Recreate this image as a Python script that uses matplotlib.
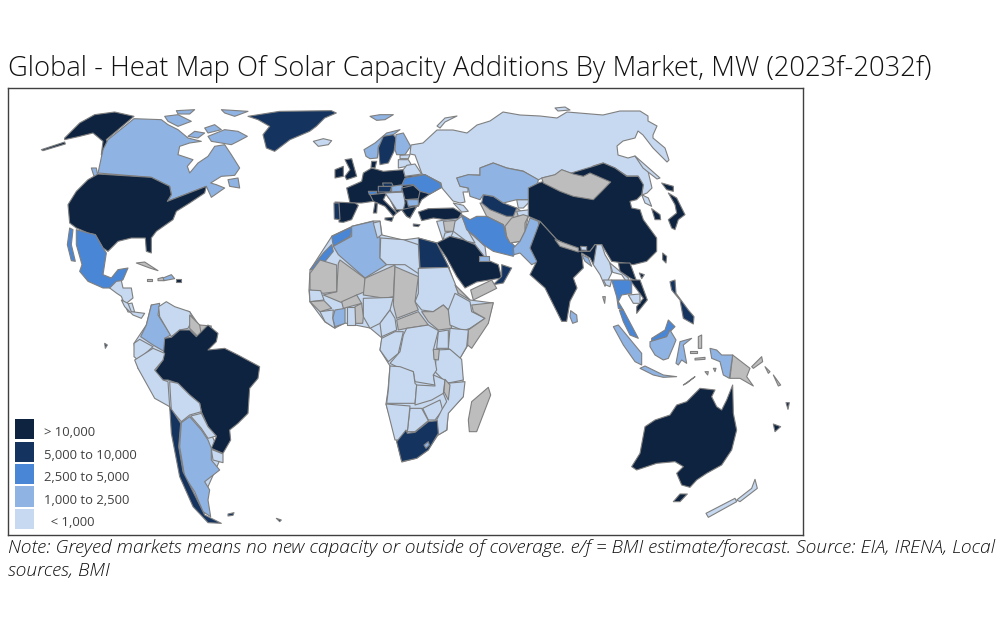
import matplotlib
matplotlib.use('Agg')
import matplotlib.pyplot as plt
from matplotlib.patches import Patch

title = 'Global - Heat Map Of Solar Capacity Additions By Market, MW (2023f-2032f)'
note = ('Note: Greyed markets means no new capacity or outside of coverage. e/f = BMI estimate/forecast. '
        'Source: EIA, IRENA, Local\nsources, BMI')

tiers = ['> 10,000', '5,000 to 10,000', '2,500 to 5,000', '1,000 to 2,500', '< 1,000']
tier_labels = ['> 10,000', '5,000 to 10,000', '2,500 to 5,000', '1,000 to 2,500', '  < 1,000']
tier_colors = ['#0e2340', '#14345f', '#4a86d6', '#8fb3e3', '#c6d9f1']
grey = '#bdbdbd'
A, B, C, D, E, G = tiers[0], tiers[1], tiers[2], tiers[3], tiers[4], 'none'

# outlines, each list in the pixels of one zoomed crop (3x)
north_america = [
    (A, [(170,150),(215,105),(260,80),(320,72),(378,85),(295,155),(300,165),(290,215),(280,200),(285,160),(255,135),(215,145),(170,155)]),
    (A, [(100,185),(170,162),(172,168),(105,188)]),
    (D, [(378,92),(460,95),(480,110),(510,125),(540,150),(580,160),(545,165),(515,175),(510,200),(555,215),(538,235),(545,255),(570,225),(600,205),(620,175),(650,170),(670,200),(695,240),(680,262),(640,265),(608,285),(625,290),(650,300),(610,328),(595,295),(530,320),(478,340),(490,320),(485,295),(430,268),(270,255),(285,185),(300,155)]),
    (D, [(600,145),(650,125),(690,130),(718,145),(690,160),(670,170),(640,165),(610,160)]),
    (D, [(470,85),(510,80),(550,100),(510,115),(480,100)]),
    (D, [(590,120),(620,110),(640,125),(600,135)]),
    (D, [(640,65),(720,70),(680,85),(650,75)]),
    (D, [(560,130),(590,135),(570,150),(540,145)]),
    (D, [(505,68),(560,65),(545,78),(510,78)]),
    (D, [(660,275),(690,270),(695,300),(665,295)]),
    (D, [(250,240),(265,240),(270,265),(258,265)]),
    (A, [(270,258),(430,268),(485,295),(490,320),(478,340),(530,320),(595,295),(590,315),(545,345),(505,370),(495,395),(445,430),(430,450),(430,495),(415,490),(412,450),(370,450),(330,460),(300,490),(285,480),(262,440),(240,435),(205,420),(185,405),(180,350),(205,310),(240,275)]),
    (C, [(205,425),(240,435),(262,440),(285,480),(295,495),(285,560),(310,570),(330,545),(360,540),(345,575),(310,600),(285,600),(240,580),(215,550),(222,530),(205,470)]),
    (C, [(185,420),(195,425),(190,470),(202,520),(190,518),(178,470)]),
    (E, [(305,600),(325,580),(340,578),(345,600),(370,600),(375,630),(350,650),(340,625),(325,615)]),
    (E, [(350,650),(372,645),(380,672),(360,672)]),
    (G, [(385,525),(410,522),(450,548),(425,540)]),
    (D, [(465,570),(490,560),(500,572),(468,578)]),
    (G, [(450,572),(465,568),(468,578),(450,578)]),
    (A, [(505,572),(518,572),(518,581),(505,581)]),
    (G, [(418,573),(432,573),(432,580),(418,580)]),
]
greenland = [
    (B, [(720,85),(815,70),(970,68),(985,75),(950,90),(925,115),(905,130),(846,155),(800,190),(775,180),(765,140),(785,115),(750,95)]),
]
south_america = [
    (E, [(430,15),(545,35),(590,100),(480,130),(600,380),(640,470),(600,560),(590,640),(530,530),(485,320),(390,205),(378,130),(415,75)]),
    (D, [(430,15),(455,10),(450,45),(488,105),(470,115),(470,155),(435,135),(398,110),(415,75)]),
    (E, [(452,20),(475,5),(500,20),(545,35),(555,55),(540,85),(515,90),(490,110),(455,50)]),
    (G, [(545,45),(575,75),(590,85),(570,110),(545,85)]),
    (G, [(575,75),(610,78),(605,95),(580,105)]),
    (A, [(490,112),(515,90),(545,90),(565,110),(600,75),(630,100),(625,125),(600,150),(650,145),(690,165),(755,200),(750,235),(725,265),(720,340),(690,370),(665,390),(668,420),(645,460),(610,445),(625,410),(600,380),(580,335),(575,310),(545,285),(510,250),(480,240),(465,240),(440,215),(465,180),(470,115)]),
    (E, [(378,130),(395,118),(435,140),(390,180),(378,170)]),
    (E, [(380,180),(435,145),(470,160),(465,180),(440,210),(465,240),(480,245),(485,320),(440,295),(390,205)]),
    (E, [(485,245),(510,250),(545,285),(575,310),(580,335),(545,345),(520,365),(490,330)]),
    (E, [(548,348),(580,340),(600,380),(625,408),(600,415),(580,385)]),
    (E, [(610,448),(645,462),(645,488),(615,480)]),
    (D, [(520,368),(545,350),(580,390),(600,420),(610,445),(610,480),(635,510),(590,545),(605,570),(600,600),(608,650),(585,635),(560,575),(530,530),(515,440)]),
    (B, [(485,320),(502,345),(518,370),(512,440),(525,515),(555,575),(590,645),(640,670),(600,668),(555,620),(515,530),(490,400)]),
    (B, [(660,642),(678,638),(675,646),(660,648)]),
    (B, [(805,655),(820,660),(815,665)]),
    (B, [(290,130),(298,135),(292,145)]),
    (E, [(340,0),(360,10),(370,35),(410,40),(400,55),(375,45),(350,20)]),
]
russia_full = [
    (E, [(411,145),(423,143),(437,130),(453,130),(467,133),(477,125),(490,121),(503,112),(520,115),(540,116),(557,118),(567,112),(603,115),(620,111),(640,111),(648,116),(648,121),(657,126),(653,135),(653,138),(665,148),(669,160),(667,162),(653,148),(643,135),(638,131),(635,138),(623,141),(617,146),(618,155),(628,158),(635,156),(648,171),(652,188),(647,193),(642,195),(643,185),(638,176),(627,176),(615,168),(603,163),(593,166),(590,171),(583,176),(573,174),(562,170),(555,175),(542,178),(538,180),(523,171),(507,168),(493,163),(480,168),(480,175),(468,175),(457,178),(460,186),(468,188),(468,192),(463,192),(465,202),(460,203),(453,201),(442,188),(441,183),(425,175),(422,174),(415,155),(410,154)]),
    (E, [(635,156),(643,163),(660,178),(657,179),(643,168)]),
    (E, [(437,126),(445,118),(457,116),(445,122),(440,128)]),
    (E, [(555,108),(565,107),(570,110),(558,111)]),
]
africa_outline = [
    (E, [(310,270),(332,236),(353,226),(373,221),(380,221),(382,235),(403,240),(418,238),(437,243),(449,268),(455,285),(470,300),(493,303),(488,323),(468,345),(460,358),(463,380),(463,397),(448,413),(447,430),(438,435),(428,450),(417,458),(402,462),(397,442),(386,404),(388,390),(390,366),(380,350),(382,338),(370,328),(345,323),(335,328),(325,322),(310,302),(309,290)]),
]
europe_asia_west = [
    (A, [(170,300),(215,280),(220,255),(245,240),(280,250),(340,245),(345,265),(405,260),(450,285),(455,298),(420,318),(395,335),(385,355),(380,355),(360,390),(350,385),(335,365),(320,375),(300,335),(285,315),(280,335),(250,340),(215,345),(180,345)]),
    (E, [(440,400),(470,395),(515,380),(530,425),(585,475),(590,515),(555,470),(520,455),(480,445),(460,460)]),
    (G, [(570,345),(680,360),(715,385),(705,430),(690,460),(660,465),(640,410),(590,385)]),
    (E, [(70,160),(100,152),(125,158),(115,170),(85,175)]),
    (D, [(240,85),(270,80),(310,80),(285,95),(260,97)]),
    (D, [(222,185),(255,165),(290,135),(330,125),(310,140),(285,150),(265,175),(262,210),(240,212),(228,205)]),
    (B, [(265,180),(280,145),(310,140),(318,150),(312,190),(295,225),(270,230)]),
    (D, [(318,140),(340,135),(362,175),(345,200),(320,200),(315,185)]),
    (E, [(330,202),(360,200),(355,212),(330,212)]),
    (E, [(325,215),(355,215),(365,232),(325,240)]),
    (E, [(350,232),(375,228),(395,258),(345,265),(340,245)]),
    (A, [(165,215),(185,212),(200,265),(170,275),(165,265),(180,245)]),
    (A, [(135,245),(160,235),(160,265),(135,270)]),
    (A, [(245,220),(260,220),(255,240),(243,238)]),
    (C, [(235,310),(260,310),(260,318),(238,320)]),
    (A, [(240,320),(290,315),(280,335),(320,375),(310,385),(285,355),(250,340)]),
    (A, [(255,345),(262,345),(260,375),(250,375)]),
    (A, [(285,390),(310,388),(305,400),(285,395)]),
    (A, [(135,342),(195,345),(205,352),(185,395),(160,403),(147,402),(148,360)]),
    (B, [(132,345),(147,345),(150,395),(133,393)]),
    (B, [(265,295),(305,295),(300,312),(265,312)]),
    (B, [(278,285),(305,285),(310,295),(280,295)]),
    (D, [(305,295),(338,290),(335,310),(305,312)]),
    (E, [(285,315),(340,312),(345,345),(340,365),(320,365),(300,335)]),
    (A, [(335,300),(370,292),(390,310),(385,332),(345,335)]),
    (D, [(350,335),(385,335),(385,352),(355,355)]),
    (A, [(335,365),(380,355),(360,390),(350,385)]),
    (C, [(345,270),(405,260),(450,285),(455,298),(420,318),(390,310),(370,290),(335,292)]),
    (A, [(385,372),(415,362),(490,360),(515,375),(505,392),(465,395),(430,390),(395,398)]),
    (A, [(370,408),(390,410),(385,416),(370,414)]),
    (E, [(490,345),(520,352),(535,370),(515,372)]),
    (G, [(460,400),(500,397),(490,430),(465,430)]),
    (E, [(495,400),(515,385),(535,430),(555,465),(530,460),(490,430)]),
    (E, [(465,435),(490,430),(475,465),(458,460)]),
    (C, [(515,380),(540,395),(560,385),(590,385),(640,410),(650,450),(680,480),(670,505),(610,490),(580,470),(555,445),(530,425)]),
    (B, [(580,320),(610,325),(640,345),(680,360),(670,385),(650,385),(600,365),(575,345)]),
    (E, [(680,335),(725,335),(700,360),(685,360)]),
    (E, [(680,370),(720,365),(715,385),(685,385)]),
    (D, [(500,270),(535,260),(570,262),(570,240),(610,225),(650,240),(700,250),(745,275),(735,320),(725,335),(680,335),(640,345),(610,325),(580,320),(570,335),(540,325),(535,300),(510,295)]),
    (G, [(645,415),(665,390),(700,380),(715,385),(705,405),(705,430),(690,460),(660,465),(650,445)]),
    (D, [(670,480),(690,460),(705,430),(720,390),(745,400),(750,440),(730,480),(745,520),(725,530),(690,495),(672,500)]),
    (A, [(440,465),(480,445),(520,455),(555,470),(590,515),(625,530),(635,570),(560,582),(525,600),(500,565),(470,510)]),
    (B, [(635,530),(665,540),(640,585),(610,590),(635,565)]),
    (D, [(568,505),(598,505),(598,520),(568,520)]),
    (C, [(125,445),(190,415),(180,445),(130,475)]),
    (C, [(60,545),(100,495),(125,470),(130,490),(85,545)]),
    (D, [(130,475),(185,445),(185,415),(250,400),(270,450),(270,510),(290,530),(225,570),(145,500)]),
    (E, [(250,405),(270,400),(275,440),(262,450)]),
    (E, [(272,450),(340,455),(385,470),(390,560),(345,530),(320,530),(290,530),(270,510)]),
    (B, [(385,450),(440,465),(478,540),(390,540)]),
]
africa = [
    (E, [(355,25),(445,22),(465,70),(475,100),(445,150),(430,135),(400,155),(365,150),(345,125),(355,100)]),
    (G, [(365,155),(400,155),(430,135),(445,150),(455,205),(415,210),(385,185)]),
    (G, [(120,0),(195,55),(195,95),(170,105),(130,130),(70,105),(110,95),(115,10)]),
    (G, [(195,55),(285,15),(280,110),(255,115),(190,105)]),
    (G, [(285,20),(355,50),(345,125),(355,150),(290,175),(280,135)]),
    (G, [(290,180),(355,155),(385,195),(320,205),(295,210)]),
    (E, [(190,115),(280,112),(270,150),(240,190),(210,205),(190,170)]),
    (G, [(30,40),(60,0),(110,15),(110,95),(70,100),(30,90)]),
    (E, [(28,90),(62,92),(72,120),(30,125)]),
    (D, [(105,150),(135,145),(135,190),(105,200),(98,175)]),
    (E, [(60,155),(100,150),(98,175),(105,205),(75,185)]),
    (E, [(140,140),(165,140),(165,195),(140,195)]),
    (G, [(165,140),(185,130),(190,170),(188,190),(167,190)]),
    (G, [(125,125),(170,105),(185,130),(130,145)]),
    (G, [(30,125),(72,122),(95,145),(60,155)]),
    (E, [(465,100),(510,125),(515,155),(555,175),(510,205),(490,212),(450,195),(445,150)]),
    (G, [(515,135),(580,128),(565,190),(515,265),(503,255),(505,210),(555,175),(520,155)]),
    (G, [(465,75),(510,120),(475,100)]),
    (G, [(512,90),(575,60),(590,85),(520,120)]),
    (E, [(450,205),(505,210),(500,260),(480,295),(445,265)]),
    (E, [(415,215),(445,210),(445,265),(410,265)]),
    (E, [(410,270),(450,268),(485,298),(490,360),(440,370),(405,335)]),
    (E, [(320,205),(385,195),(415,212),(400,270),(410,330),(400,345),(405,375),(345,365),(340,335),(300,325),(270,310),(300,275),(310,225)]),
    (E, [(285,215),(310,215),(295,280),(265,305),(240,270),(245,235)]),
    (E, [(240,190),(270,150),(285,175),(290,210),(245,230)]),
    (E, [(270,318),(300,320),(340,335),(345,370),(350,375),(345,430),(260,430),(265,390)]),
    (E, [(350,375),(405,378),(400,345),(435,360),(430,400),(395,420),(345,435)]),
    (E, [(368,445),(420,420),(428,450),(405,480),(385,480)]),
    (E, [(330,445),(365,445),(385,482),(345,515),(322,515)]),
    (E, [(258,432),(330,438),(322,515),(315,540),(285,540)]),
    (E, [(440,370),(495,365),(490,410),(445,460),(440,510),(415,525),(410,480),(425,450),(440,425),(430,400)]),
    (G, [(435,358),(450,375),(445,420),(432,395)]),
    (G, [(400,268),(418,268),(415,300),(402,298)]),
    (B, [(290,545),(318,510),(322,520),(345,517),(385,485),(412,482),(415,520),(385,570),(350,595),(305,605)]),
    (D, [(372,555),(385,545),(388,555),(378,565)]),
    (G, [(515,425),(565,382),(572,405),(530,515),(508,515),(505,480)]),
]
asia_east = [
    (A, [(160,235),(190,225),(225,240),(260,265),(295,265),(310,290),(305,320),(290,335),(270,340),(275,360),(300,365),(310,395),(350,450),(350,490),(320,520),(280,530),(250,525),(215,520),(185,470),(165,470),(150,490),(115,490),(50,455),(0,400),(-35,385),(-35,300),(-5,285)]),
    (G, [(5,270),(45,260),(65,245),(100,258),(130,265),(150,255),(212,282),(185,310),(160,335),(100,325),(60,310),(10,285)]),
    (A, [(0,400),(50,455),(115,490),(150,490),(165,470),(185,470),(180,510),(160,530),(150,510),(125,495),(130,540),(100,570),(111,600),(90,640),(80,700),(65,700),(40,650),(15,600),(-30,560),(-10,520),(-30,480)]),
    (G, [(45,455),(115,480),(115,492),(60,475)]),
    (E, [(122,475),(140,476),(140,487),(124,486)]),
    (D, [(125,500),(145,510),(155,535),(135,520)]),
    (E, [(170,470),(185,470),(195,500),(210,525),(215,555),(195,595),(180,560),(160,530)]),
    (E, [(210,525),(240,550),(265,570),(265,590),(245,560),(218,553)]),
    (A, [(235,525),(270,525),(290,580),(270,570),(240,550)]),
    (A, [(365,285),(400,295),(400,310),(380,305)]),
    (A, [(385,315),(410,330),(435,380),(415,395),(405,425),(395,420),(385,395),(410,375),(405,350)]),
    (E, [(305,320),(325,330),(335,355),(315,345)]),
    (A, [(335,362),(360,380),(362,395),(345,395)]),
    (A, [(368,495),(380,505),(378,525),(368,515)]),
    (A, [(298,555),(313,560),(305,572)]),
]
asia_pacific = [
    (C, [(215,0),(275,0),(275,40),(245,45),(235,65),(250,90),(235,85),(230,50)]),
    (E, [(190,0),(215,0),(210,20),(198,15)]),
    (A, [(270,0),(300,0),(322,60),(290,100),(290,80),(310,55)]),
    (E, [(265,45),(300,42),(300,70),(280,70)]),
    (C, [(238,90),(250,90),(295,175),(270,165),(250,125)]),
    (D, [(220,140),(235,135),(305,220),(305,255),(285,245),(250,195)]),
    (D, [(300,265),(315,258),(370,285),(410,290),(370,292),(340,285)]),
    (C, [(335,175),(375,150),(385,120),(405,140),(390,155),(380,170),(335,185)]),
    (D, [(330,185),(380,170),(390,150),(408,180),(400,200),(385,235),(370,240),(345,225),(330,200)]),
    (D, [(408,250),(420,185),(455,175),(430,195),(440,250),(425,240),(415,255)]),
    (G, [(578,225),(630,265),(620,290),(640,318),(600,295),(570,295)]),
    (G, [(635,260),(665,230),(668,245),(640,265)]),
    (D, [(510,205),(530,210),(545,225),(578,225),(568,295),(550,285),(540,245),(515,235)]),
    (D, [(430,315),(465,290),(440,310)]),
    (D, [(92,92),(110,105),(112,125),(98,130),(90,110)]),
    (B, [(390,5),(405,0),(408,40),(445,90),(462,110),(460,132),(430,115),(420,60),(395,30)]),
    (A, [(275,560),(300,520),(315,440),(345,420),(390,405),(410,375),(440,365),(480,325),(525,330),(515,350),(530,380),(545,390),(560,360),(578,315),(580,400),(590,450),(575,510),(545,555),(500,580),(470,600),(450,622),(425,615),(410,580),(430,560),(405,545),(350,550),(290,570)]),
    (A, [(400,665),(420,642),(442,642),(420,665)]),
    (E, [(590,660),(635,625),(645,598),(652,625),(600,665)]),
    (E, [(498,700),(585,655),(590,665),(505,712)]),
    (A, [(700,432),(705,455),(722,440)]),
    (A, [(738,368),(748,368),(744,388)]),
    (G, [(188,50),(196,50),(194,70)]),
    (G, [(465,235),(495,232),(495,238),(465,240)]),
    (G, [(450,212),(470,212),(470,218),(450,218)]),
    (G, [(475,170),(485,165),(485,205),(475,205)]),
    (G, [(675,260),(690,275),(685,280)]),
    (G, [(700,285),(722,315),(715,318)]),
    (G, [(495,275),(505,275),(503,285)]),
    (G, [(520,265),(528,265),(525,275)]),
]

# left, top of each crop in the reference
crops = [(north_america, 8, 88), (greenland, 8, 88), (south_america, 8, 300),
         (russia_full, 0, 0), (africa_outline, 0, 0), (europe_asia_west, 290, 88),
         (africa, 300, 260), (asia_east, 540, 88), (asia_pacific, 540, 280)]

fig = plt.figure(figsize=(10, 6.4), dpi=100, facecolor='white')
ax = fig.add_axes([8/1000, 1-535/640, 795/1000, 447/640])

color_of = dict(zip(tiers, tier_colors))
for shapes, left, top in crops:
    scale = 1 if left == 0 else 3
    for tier, pts in shapes:
        xs = [left + p[0]/scale for p in pts]
        ys = [top + p[1]/scale for p in pts]
        ax.fill(xs, ys, facecolor=color_of.get(tier, grey), edgecolor='#7f7f7f', lw=0.8, joinstyle='round')

ax.set_xlim(8, 803)
ax.set_ylim(535, 88)
ax.set_xticks([])
ax.set_yticks([])
for s in ax.spines.values():
    s.set_color('#404040')
    s.set_linewidth(1.0)

handles = [Patch(facecolor=c, edgecolor='none') for c in tier_colors]
leg = ax.legend(handles, tier_labels, loc='lower left', frameon=False,
                handlelength=1.46, handleheight=1.99, labelspacing=0.18, handletextpad=0.77,
                borderaxespad=0, borderpad=0, bbox_to_anchor=(7/795, 6/447),
                prop={'family': 'Open Sans', 'size': 9.4})
for t in leg.get_texts():
    t.set_color('#404040')
    t.set_y(-3)

fig.text(8/1000, 1-69/640, title, fontsize=19.75, family='Open Sans', weight='light', color='#111111', va='center', ha='left')
fig.text(8/1000, 1-539/640, note, fontsize=13.9, family='Open Sans', weight='light', style='italic', color='#111111',
         va='top', ha='left', linespacing=1.33)

fig.savefig('out.png', dpi=100)
